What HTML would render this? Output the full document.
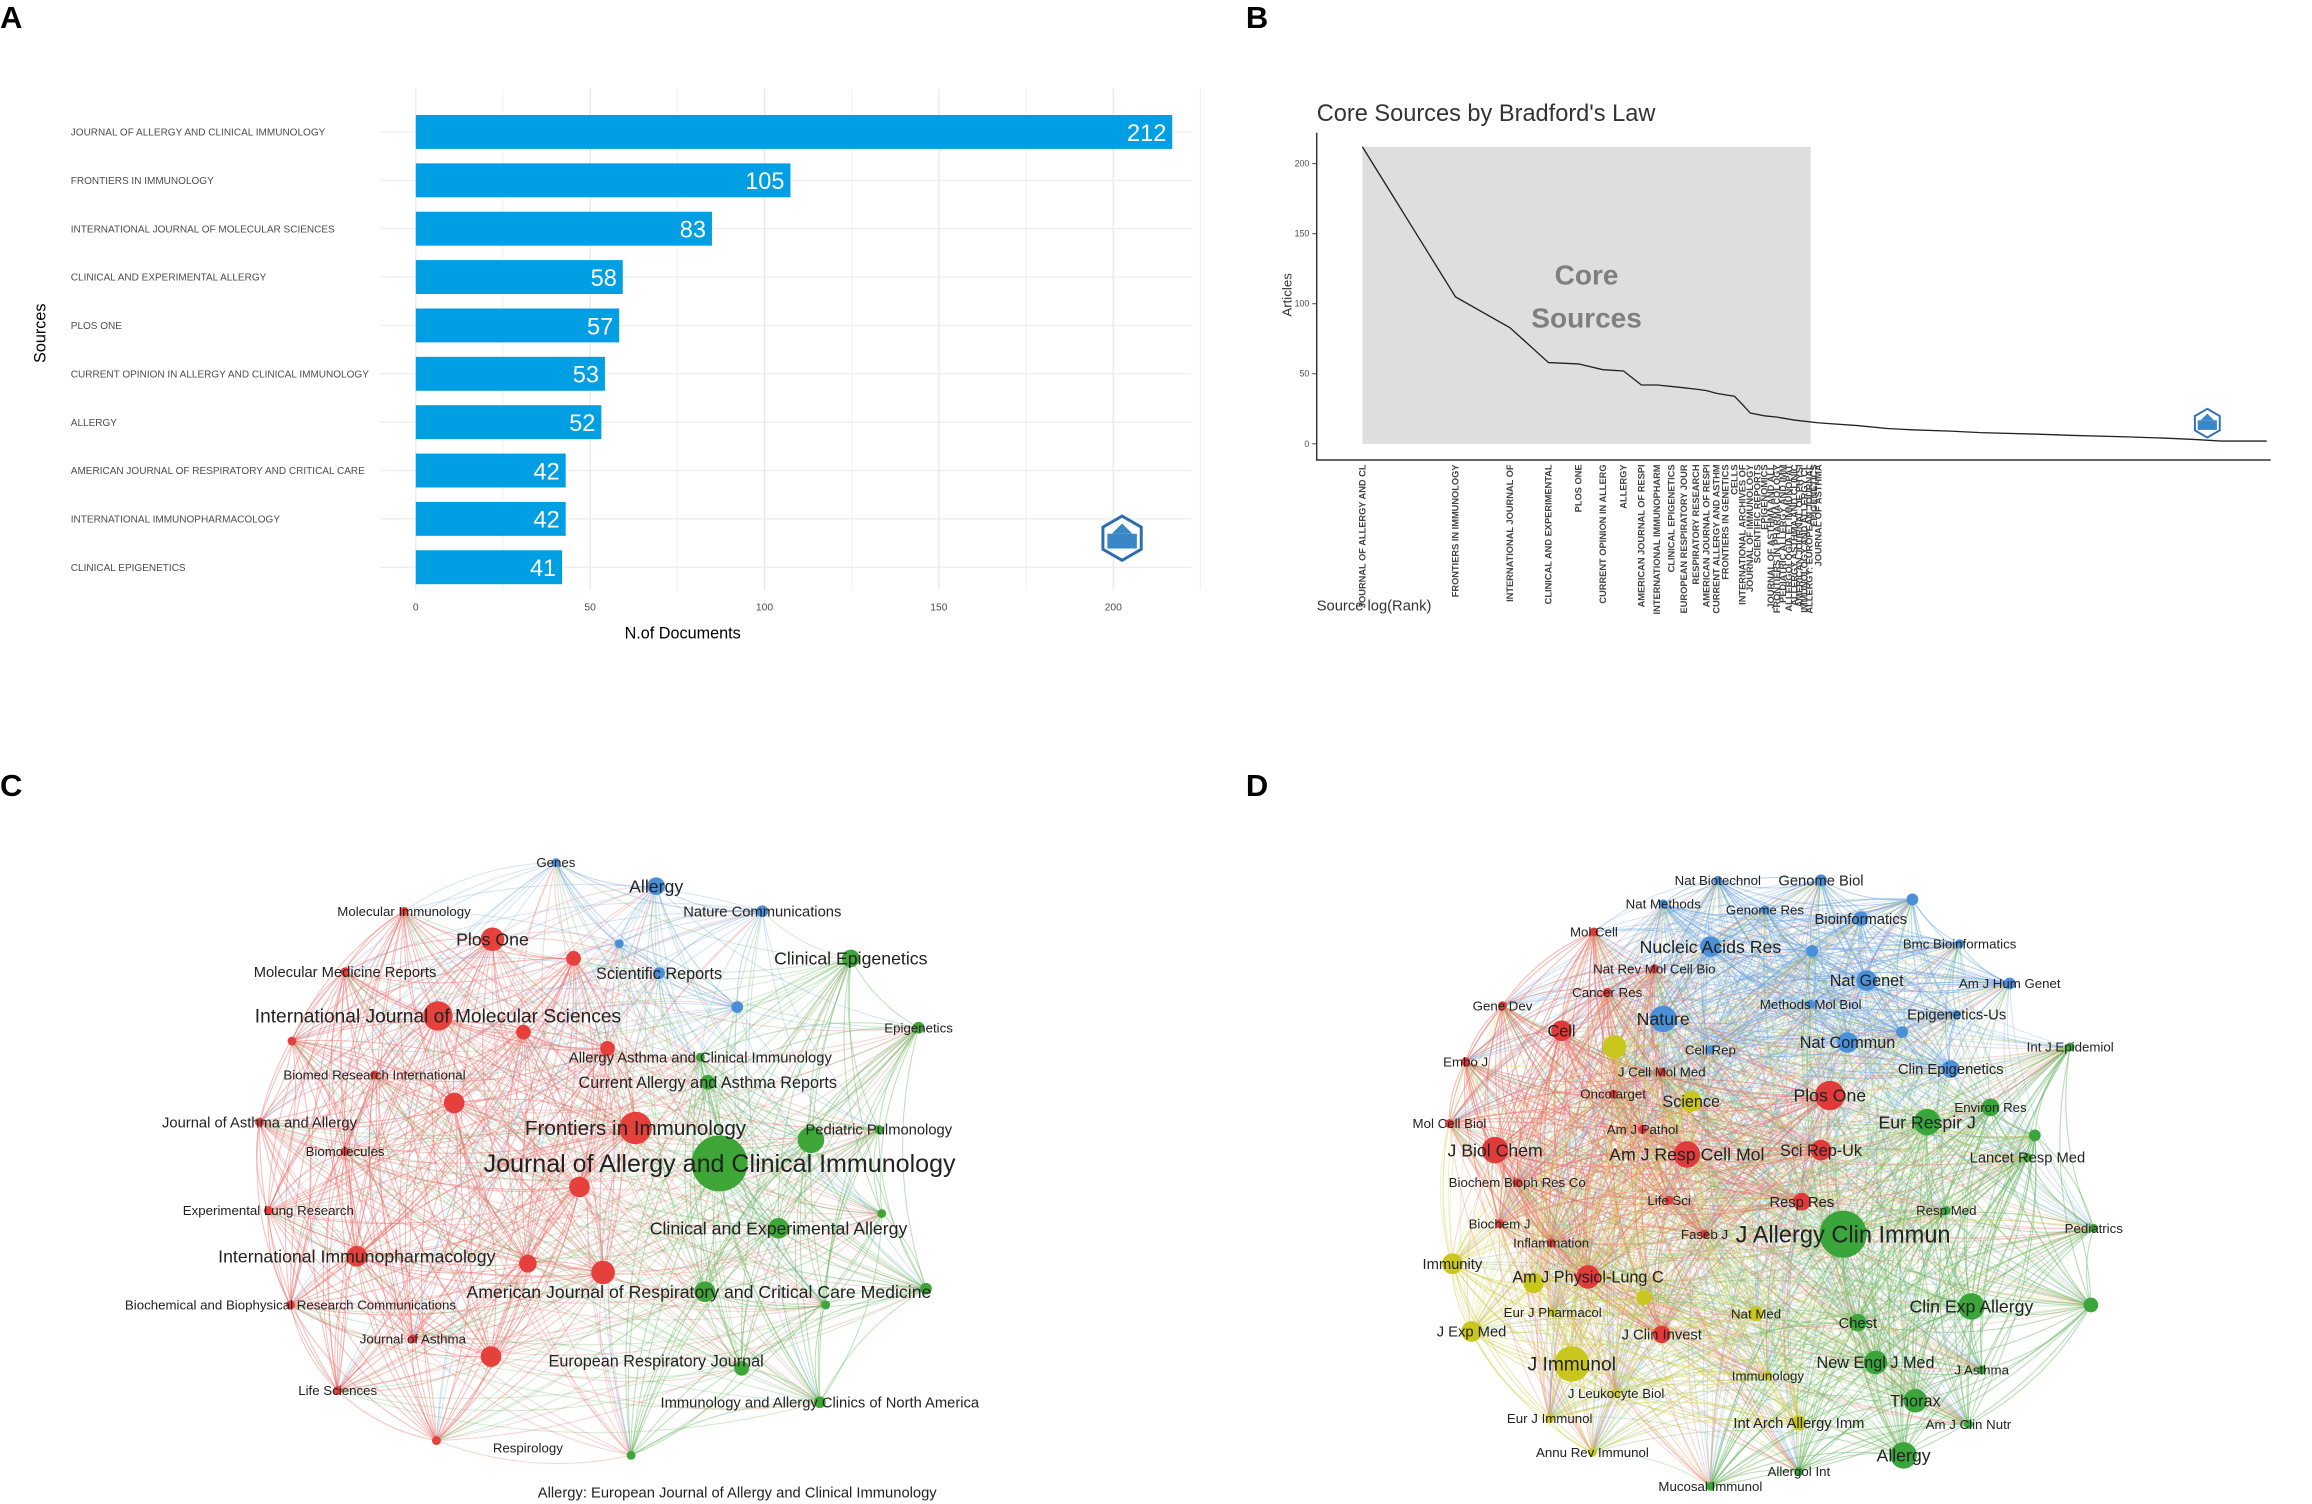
<!DOCTYPE html>
<html><head><meta charset="utf-8">
<style>
html,body{margin:0;padding:0;background:#fff;}
svg{display:block;font-family:"Liberation Sans",Arial,sans-serif;}
</style></head>
<body>
<svg id="fig" width="2312" height="1504" viewBox="0 0 1568 1020" preserveAspectRatio="none" xmlns="http://www.w3.org/2000/svg">
<rect x="0" y="0" width="1568" height="1020" fill="#fff"/>
<text x="0" y="19" font-size="21" font-weight="bold">A</text>
<text x="845" y="19" font-size="21" font-weight="bold">B</text>
<text x="0" y="540" font-size="21" font-weight="bold">C</text>
<text x="845" y="540" font-size="21" font-weight="bold">D</text>
<g id="pa"></g>
<g id="pb"></g>
<g id="pc"></g>
<g id="pd"></g>
</svg>
<script>
// ---------- Panel A data ----------
const aSources = ["JOURNAL OF ALLERGY AND CLINICAL IMMUNOLOGY","FRONTIERS IN IMMUNOLOGY","INTERNATIONAL JOURNAL OF MOLECULAR SCIENCES","CLINICAL AND EXPERIMENTAL ALLERGY","PLOS ONE","CURRENT OPINION IN ALLERGY AND CLINICAL IMMUNOLOGY","ALLERGY","AMERICAN JOURNAL OF RESPIRATORY AND CRITICAL CARE","INTERNATIONAL IMMUNOPHARMACOLOGY","CLINICAL EPIGENETICS"];
const aCounts = [212,105,83,58,57,53,52,42,42,41];
const aTicks = [0,50,100,150,200];

// ---------- Panel B data ----------
const bRanks = [1,2,3,4,5,6,7,8,9,10,11,12,13,14,15,16,17,18,20,22,25,30,40,50,60,80,100,150,200,300,400,500,600,845];
const bArticles = [212,105,83,58,57,53,52,42,42,41,40,39,38,36,35,34,28,22,20,19,17,15,13,11,10,9,8,7,6,5,4,3,2,2];
const bLabels = ["JOURNAL OF ALLERGY AND CL","FRONTIERS IN IMMUNOLOGY","INTERNATIONAL JOURNAL OF","CLINICAL AND EXPERIMENTAL","PLOS ONE","CURRENT OPINION IN ALLERG","ALLERGY","AMERICAN JOURNAL OF RESPI","INTERNATIONAL IMMUNOPHARM","CLINICAL EPIGENETICS","EUROPEAN RESPIRATORY JOUR","RESPIRATORY RESEARCH","AMERICAN JOURNAL OF RESPI","CURRENT ALLERGY AND ASTHM","FRONTIERS IN GENETICS","CELLS","INTERNATIONAL ARCHIVES OF","JOURNAL OF IMMUNOLOGY","SCIENTIFIC REPORTS","EPIGENOMICS","JOURNAL OF ASTHMA AND ALL","FRONTIERS IN PHARMACOLOGY","PEDIATRIC ALLERGY AND IMM","ALLERGOLOGIA ET IMMUNOPAT","ALLERGY ASTHMA AND CLINIC","AMERICAN JOURNAL OF PHYSI","IMMUNOLOGY AND ALLERGY CL","ALLERGY: EUROPEAN JOURNAL","EPIGENETICS","JOURNAL OF ASTHMA"];
const bYTicks = [0,50,100,150,200];

// ---------- Panel C data ----------
const cNames = ["Genes","Allergy","Nature Communications","Scientific Reports","","",
"Molecular Immunology","Plos One","Molecular Medicine Reports","International Journal of Molecular Sciences","Biomed Research International","Journal of Asthma and Allergy","Biomolecules","Frontiers in Immunology","Experimental Lung Research","International Immunopharmacology","Biochemical and Biophysical Research Communications","Journal of Asthma","Life Sciences","Respirology","European Respiratory Journal","","","","","","","","",
"Journal of Allergy and Clinical Immunology","Clinical Epigenetics","Epigenetics","Allergy Asthma and Clinical Immunology","Current Allergy and Asthma Reports","Pediatric Pulmonology","","Clinical and Experimental Allergy","American Journal of Respiratory and Critical Care Medicine","","","Immunology and Allergy Clinics of North America","Allergy: European Journal of Allergy and Clinical Immunology","",""];
const cX = [377,445,517,447,500,420, 274,334,234,297,254,176,234,431,182,242,197,280,229,296,333,409,393,308,355,412,389,358,198, 488,577,623,475,480,596,550,528,478,628,560,556,428,503,598];
const cY = [585,601,618,660,683,640, 618,637,659,689,729,761,781,765,821,852,885,908,943,977,920,863,805,748,700,711,650,857,706, 789,650,697,717,734,766,773,833,876,874,885,951,987,928,823];
const cSize = [3,6,4,4,4,3, 3,8,3,10,3,3,3,11,3,7,3,3,3,3,7,8,7,7,5,5,5,6,3, 19,6,4,3,5,3,9,7,7,4,3,4,3,5,3];
const cCluster = [2,2,2,2,2,2, 0,0,0,0,0,0,0,0,0,0,0,0,0,0,0,0,0,0,0,0,0,0,0, 1,1,1,1,1,1,1,1,1,1,1,1,1,1,1];
const cFont = [9,12,10,11,0,0, 9,12,10,13,9,10,9,14,9,12,9,9,9,9,11,0,0,0,0,0,0,0,0, 17,12,9,10,11,10,0,12,12,0,0,10,10,0,0];
const cLabelAt = {19:[358,982], 20:[445,923], 41:[500,1012], 17:[280,908], 37:[474,876], 40:[556,951]};

// ---------- Panel D data ----------
const dNames = ["Nat Biotechnol","Genome Biol","Nat Methods","Genome Res","Bioinformatics","","Nucleic Acids Res","Bmc Bioinformatics","Nat Genet","Am J Hum Genet","Nature","Methods Mol Biol","Epigenetics-Us","Nat Commun","Cell Rep","Clin Epigenetics","","",
"Mol Cell","Nat Rev Mol Cell Bio","Cancer Res","Gene Dev","Cell","Embo J","J Cell Mol Med","Oncotarget","Am J Pathol","J Biol Chem","Am J Resp Cell Mol","Plos One","Sci Rep-Uk","Biochem Bioph Res Co","Life Sci","Resp Res","Biochem J","Faseb J","Inflammation","Mol Cell Biol","Am J Physiol-Lung C","J Clin Invest",
"Int J Epidemiol","Environ Res","Eur Respir J","Lancet Resp Med","Resp Med","Pediatrics","J Allergy Clin Immun","Clin Exp Allergy","Chest","New Engl J Med","J Asthma","Thorax","Am J Clin Nutr","Allergy","Allergol Int","Mucosal Immunol","","",
"Science","Immunity","Eur J Pharmacol","J Exp Med","J Immunol","Immunology","J Leukocyte Biol","Int Arch Allergy Imm","Eur J Immunol","Annu Rev Immunol","Nat Med","","",""];
const dX = [1165,1235,1128,1197,1262,1297,1160,1329,1266,1363,1128,1228,1327,1253,1160,1323,1229,1290,
1081,1122,1090,1019,1059,994,1127,1094,1114,1014,1144,1241,1235,1029,1132,1222,1017,1156,1052,983,1077,1127,
1404,1350,1307,1375,1320,1420,1250,1337,1260,1272,1344,1299,1335,1291,1220,1160,1418,1380,
1147,985,1053,998,1066,1199,1096,1220,1051,1080,1191,1095,1040,1115];
const dY = [597,597,613,617,623,610,642,640,665,667,691,681,688,707,712,725,645,700,
632,657,673,682,699,720,727,742,766,780,783,743,780,802,814,815,830,837,843,762,866,905,
710,751,761,785,821,833,837,886,897,924,929,950,966,987,998,1008,885,770,
747,857,890,903,925,933,945,965,962,985,891,710,870,880];
const dSize = [3,4,3,3,5,4,7,3,7,4,9,3,3,7,3,6,4,4,
3,3,3,3,7,3,3,3,3,9,9,10,7,3,3,6,3,3,3,3,8,6,
3,6,9,3,3,3,16,9,6,8,3,8,3,9,3,3,5,4,
7,7,3,7,12,3,3,5,3,3,5,8,7,5];
const dCluster = [2,2,2,2,2,2,2,2,2,2,2,2,2,2,2,2,2,2,
0,0,0,0,0,0,0,0,0,0,0,0,0,0,0,0,0,0,0,0,0,0,
1,1,1,1,1,1,1,1,1,1,1,1,1,1,1,1,1,1,
3,3,3,3,3,3,3,3,3,3,3,3,3,3];
const dFont = [9,10,9,9,10,0,12,9,11,9,12,9,10,11,9,10,0,0,
9,9,9,9,11,9,9,9,9,12,12,12,11,9,9,10,9,9,9,9,11,10,
9,9,12,10,9,9,16,12,10,11,9,11,9,12,9,9,0,0,
11,10,9,10,13,9,9,10,9,9,9,0,0,0];

// ---------- helpers ----------
const NS = "http://www.w3.org/2000/svg";
function mk(parent, tag, attrs, txt) {
  const e = document.createElementNS(NS, tag);
  for (const k in attrs) e.setAttribute(k, attrs[k]);
  if (txt !== undefined) e.textContent = txt;
  parent.appendChild(e);
  return e;
}
function logo(parent, cx, cy, s) {
  const g = mk(parent, "g", {});
  
  
  let pts = [];
  for (let i = 0; i < 6; i++) { const a = Math.PI / 3 * i - Math.PI / 2; pts.push((cx + 15 * s * Math.cos(a)) + "," + (cy + 15 * s * Math.sin(a))); }
  mk(g, "polygon", { points: pts.join(" "), fill: "#fff", stroke: "#2a6db5", "stroke-width": 2 * s });
  mk(g, "rect", { x: cx - 10 * s, y: cy - 3 * s, width: 20 * s, height: 10 * s, fill: "#3a87c8" });
  mk(g, "polygon", { points: (cx - 7 * s) + "," + (cy - 3 * s) + " " + cx + "," + (cy - 10 * s) + " " + (cx + 7 * s) + "," + (cy - 3 * s), fill: "#3a87c8" });
}

// ---------- Panel A ----------
(function () {
  const g = document.getElementById("pa");
  const x0 = 282, pxPer = (795 - 282) / 212, top = 60, bottom = 400, left = 258, right = 808;
  const xs = v => x0 + v * pxPer;
  const tx = v => x0 + v * (755 - 282) / 200;
  const rowY = i => 89.5 + i * 32.8;
  for (let v = 0; v <= 225; v += 25) {
    const l = mk(g, "line", { x1: tx(v), y1: top, x2: tx(v), y2: bottom, stroke: v % 50 === 0 ? "#e6e6e6" : "#f2f2f2", "stroke-width": 0.8 });
    
    
  }
  aSources.forEach((s, i) => {
    const gl = mk(g, "line", { x1: left, y1: rowY(i), x2: right, y2: rowY(i), stroke: "#ececec", "stroke-width": 0.8 });
    
    
    const b = mk(g, "rect", { x: xs(0), y: rowY(i) - 11.5, width: xs(aCounts[i]) - xs(0), height: 23, fill: "#009ee3" });
    
    
    const t = mk(g, "text", { x: xs(aCounts[i]) - 4, y: rowY(i) + 6, "font-size": 16, fill: "#fff", "text-anchor": "end" }, aCounts[i]);
    
    
    const lb = mk(g, "text", { x: 48, y: rowY(i) + 2.5, "font-size": 6.8, fill: "#4d4d4d" }, s);
    
    
  });
  aTicks.forEach(v => {
    const t = mk(g, "text", { x: tx(v), y: 414, "font-size": 7, fill: "#4d4d4d", "text-anchor": "middle" }, v);
    
    
  });
  const xt = mk(g, "text", { x: 463, y: 433, "font-size": 11, fill: "#000", "text-anchor": "middle" }, "N.of Documents");
  
  
  const yt = mk(g, "text", { x: 0, y: 0, "font-size": 11, fill: "#000", "text-anchor": "middle", transform: "translate(31,226) rotate(-90)" }, "Sources");
  
  
  logo(g, 761, 365, 1);
})();

// ---------- Panel B ----------
(function () {
  const g = document.getElementById("pb");
  const ys = v => 301 - v * (301 - 111) / 200;
  const xs = r => 924 + 91 * Math.log(r);
  const title = mk(g, "text", { x: 893, y: 82, "font-size": 16, fill: "#333" }, "Core Sources by Bradford's Law");
  
  
  const core = mk(g, "rect", { x: xs(1), y: ys(212), width: 1228 - xs(1), height: ys(0) - ys(212), fill: "#dedede" });
  
  
  const ct1 = mk(g, "text", { x: 1076, y: 193, "font-size": 19, "font-weight": "bold", fill: "#7f7f7f", "text-anchor": "middle" }, "Core");
  
  
  const ct2 = mk(g, "text", { x: 1076, y: 222, "font-size": 19, "font-weight": "bold", fill: "#7f7f7f", "text-anchor": "middle" }, "Sources");
  
  
  const ax = mk(g, "path", { d: "M893,90 V312 H1540", fill: "none", stroke: "#333", "stroke-width": 1 });
  
  
  bYTicks.forEach(v => {
    const tk = mk(g, "line", { x1: 890, y1: ys(v), x2: 893, y2: ys(v), stroke: "#333", "stroke-width": 0.6 });
    
    
    const t = mk(g, "text", { x: 888, y: ys(v) + 2, "font-size": 6, fill: "#4d4d4d", "text-anchor": "end" }, v);
    
    
  });
  let d = "";
  bRanks.forEach((r, i) => { d += (i ? " L" : "M") + xs(r).toFixed(1) + "," + ys(bArticles[i]).toFixed(1); });
  const ln = mk(g, "path", { d: d, fill: "none", stroke: "#222", "stroke-width": 0.9 });
  
  
  bLabels.forEach((s, i) => {
    const x = xs(i + 1);
    const t = mk(g, "text", { x: 0, y: 0, "font-size": 6.3, "font-weight": "bold", fill: "#444", "text-anchor": "end", transform: "translate(" + (x + 2) + ",315) rotate(-90)" }, s);
    
    
  });
  const xt = mk(g, "text", { x: 893, y: 414, "font-size": 10, fill: "#333" }, "Source log(Rank)");
  
  
  const yt = mk(g, "text", { x: 0, y: 0, "font-size": 9, fill: "#333", "text-anchor": "middle", transform: "translate(876,200) rotate(-90)" }, "Articles");
  
  
  logo(g, 1497, 287, 0.65);
})();

// ---------- Networks ----------
function network(gid, names, X, Y, S, C, F, colors, lineColors, prefix, labelAt, sameOp, crossOp) {
  const g = document.getElementById(gid);
  const eg = mk(g, "g", {});
  
  
  const n = names.length;
  for (let i = 0; i < n; i++) for (let j = i + 1; j < n; j++) {
    const same = C[i] === C[j];
    if (!same && (i + j) % 2 !== 0) continue;
    const mx = (X[i] + X[j]) / 2, my = (Y[i] + Y[j]) / 2;
    const dx = X[j] - X[i], dy = Y[j] - Y[i];
    const cx = mx - dy * 0.15, cy = my + dx * 0.15;
    const col = same ? lineColors[C[i]] : lineColors[(S[i] >= S[j]) ? C[i] : C[j]];
    const e = mk(eg, "path", { d: "M" + X[i] + "," + Y[i] + " Q" + cx.toFixed(1) + "," + cy.toFixed(1) + " " + X[j] + "," + Y[j], fill: "none", stroke: col, "stroke-width": 0.7, "stroke-opacity": same ? sameOp : crossOp });
    
    
  }
  for (let i = 0; i < n; i++) {
    const c = mk(g, "circle", { cx: X[i], cy: Y[i], r: S[i], fill: colors[C[i]] });
    
    
  }
  for (let i = 0; i < n; i++) {
    if (!names[i] || !F[i]) continue;
    const p = labelAt[i] || [X[i], Y[i]];
    const t = mk(g, "text", { x: p[0], y: p[1] + F[i] * 0.35, "font-size": F[i], fill: "#222", "text-anchor": "middle" }, names[i]);
    
    
  }
}
network("pc", cNames, cX, cY, cSize, cCluster, cFont,
  ["#e5403c", "#3da637", "#4a8fd6"], ["#ea6f6a", "#6cb865", "#6fa5e0"], "c", cLabelAt, 0.45, 0.3);
network("pd", dNames, dX, dY, dSize, dCluster, dFont,
  ["#e13a3a", "#3aa53a", "#4a90d9", "#c9c71d"], ["#ea6f6a", "#6cb865", "#6fa5e0", "#d2d04a"], "d", {}, 0.5, 0.3);
</script>
</body></html>
